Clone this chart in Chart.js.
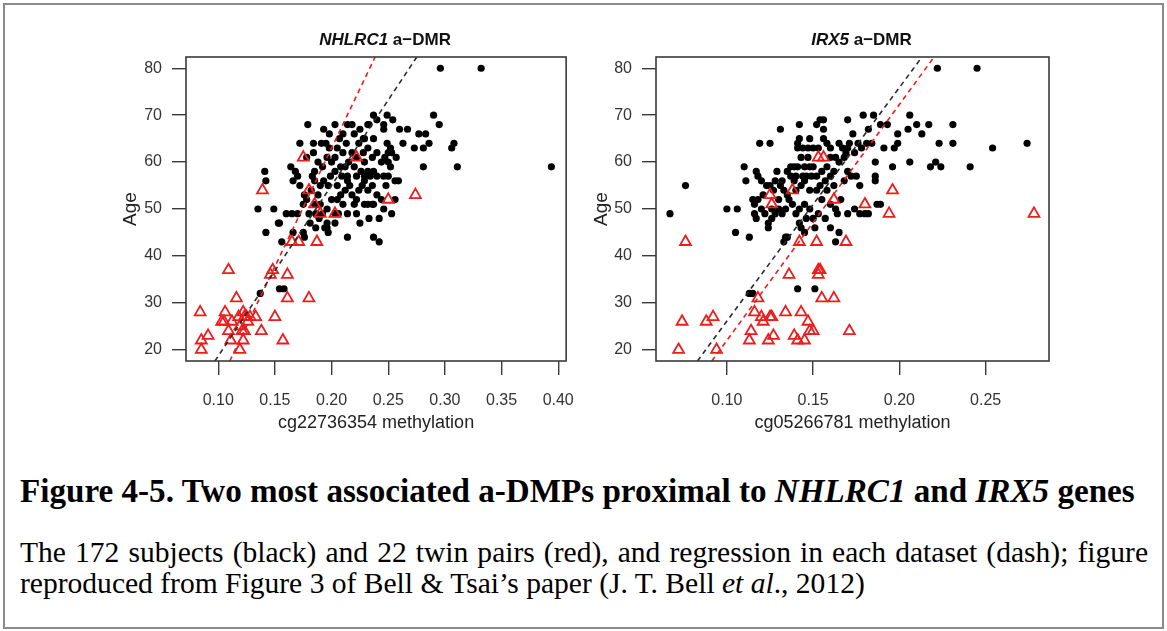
<!DOCTYPE html>
<html><head><meta charset="utf-8">
<script src="https://cdn.jsdelivr.net/npm/chart.js@4.4.0/dist/chart.umd.min.js"></script>
<style>
html,body{margin:0;padding:0;background:#fff;}
body{width:1167px;height:631px;position:relative;overflow:hidden;}
#frame{position:absolute;left:3px;top:3px;width:1157px;height:622px;border:2px solid #8a8a8a;}
#c1{position:absolute;left:0;top:0;width:590px;height:440px;}
#c2{position:absolute;left:590px;top:0;width:577px;height:440px;}
.cap{position:absolute;left:20px;font-family:"Liberation Serif","Times New Roman",serif;color:#000;white-space:nowrap;line-height:1;}
#capL1{width:1128px;white-space:normal;text-align:justify;text-align-last:justify;}
</style></head><body>
<div id="frame"></div>
<canvas id="c1" width="590" height="440"></canvas>
<canvas id="c2" width="577" height="440"></canvas>
<div class="cap" id="capTitle"><b>Figure 4-5. Two most associated a-DMPs proximal to <i>NHLRC1</i> and <i>IRX5</i> genes</b></div>
<div class="cap" id="capL1">The 172 subjects (black) and 22 twin pairs (red), and regression in each dataset (dash); figure</div>
<div class="cap" id="capL2">reproduced from Figure 3 of Bell &amp; Tsai’s paper (J. T. Bell <i>et al</i>., 2012)</div>
<script>
// ---------------- DATA ----------------
const ageTicks = [20, 30, 40, 50, 60, 70, 80];
const nhlrc1Ticks = [0.10, 0.15, 0.20, 0.25, 0.30, 0.35, 0.40];
const irx5Ticks = [0.10, 0.15, 0.20, 0.25];

// NHLRC1 panel: [cg22736354 methylation, age]
const nhlrc1Subjects = [
[0.296,80],[0.332,80],[0.290,70],[0.295,68],[0.237,70],[0.240,69],[0.249,70],[0.254,69],[0.233,68],[0.246,68],[0.246,67],[0.260,67],[0.267,67],[0.237,65],[0.229,65],[0.263,64],[0.273,63],[0.281,63],[0.277,66],[0.283,66],[0.286,64],[0.249,64],[0.252,63],[0.253,62],[0.250,62],[0.257,61],[0.247,61],[0.306,63],[0.308,64],[0.281,59],[0.311,59],[0.394,59],[0.250,60],[0.252,59],[0.229,60],[0.229,57],[0.234,57],[0.240,57],[0.246,57],[0.256,56],[0.259,56],[0.229,56],[0.229,51],[0.236,51],[0.256,52],[0.233,48],[0.242,48],[0.253,49],
[0.179,68],[0.193,67],[0.203,68],[0.214,68],[0.218,68],[0.232,68],[0.172,64],[0.184,64],[0.191,64],[0.195,64],[0.198,63],[0.205,63],[0.213,64],[0.224,64],[0.228,65],[0.203,61],[0.215,60],[0.212,59],[0.208,59],[0.220,59],[0.226,58],[0.232,58],[0.237,58],[0.192,59],[0.164,59],[0.168,58],[0.170,57],[0.141,58],[0.142,56],[0.185,58],[0.183,57],[0.185,56],[0.197,55],[0.199,57],[0.203,58],[0.209,57],[0.214,57],[0.222,57],[0.214,56],[0.200,52],[0.205,52],[0.220,51],[0.222,52],[0.232,51],[0.237,51],[0.135,50],[0.149,50],[0.175,51],[0.154,47],[0.160,49],[0.165,49],[0.180,49],[0.186,49],[0.192,49],[0.196,50],[0.203,49],[0.196,47],[0.196,46],[0.214,49],[0.222,49],[0.203,47],
[0.142,45],[0.153,47],[0.156,43],[0.166,45],[0.175,45],[0.176,44],[0.189,48],[0.194,46],[0.197,45],[0.214,44],[0.237,44],[0.242,43],[0.137,32],[0.154,33],[0.158,33],
[0.166,56],[0.172,55],[0.176,53],[0.178,52],[0.182,54],[0.188,53],[0.190,55],[0.193,56],[0.205,55],[0.208,53],[0.210,51],[0.212,54],[0.216,55],[0.218,53],[0.224,54],[0.227,55],[0.232,54],[0.236,55],[0.240,53],[0.244,52],[0.248,55],[0.250,57],[0.244,60],[0.240,62],[0.236,61],[0.232,63],[0.228,62],[0.222,61],[0.218,62],[0.210,62],[0.207,65],[0.210,66],[0.220,66],[0.225,67],[0.198,66],[0.200,60],[0.196,61],[0.188,60],[0.184,62],[0.178,61],[0.185,51],[0.190,51],[0.170,49],[0.181,47],[0.186,46],[0.206,49],[0.225,47],[0.246,50]
];
const nhlrc1Twins = [
[0.109,37],[0.084,28],[0.085,22],[0.085,20],[0.091,23],[0.106,28],[0.103,26],[0.105,26],[0.109,24],[0.111,22],[0.116,31],[0.118,27],[0.122,28],[0.123,27],[0.126,26],[0.121,24],[0.123,24],[0.122,22],[0.119,20],[0.133,27],[0.138,24],[0.150,27],[0.157,22],[0.148,37],[0.146,36],[0.161,36],[0.161,31],[0.180,31],[0.165,43],[0.171,43],[0.187,43],[0.175,61],[0.222,61],[0.139,54],[0.180,54],[0.185,51],[0.190,49],[0.203,49],[0.250,52],[0.274,53],[0.119,25],[0.125,27],[0.112,26],[0.128,27]
];
// regression (age = intercept + slope * methylation): [subjects, twins]
const nhlrc1FitIntercept = [-17.7, -38.0];
const nhlrc1FitSlope = [363.7, 505];

// IRX5 panel: [cg05266781 methylation, age]
const irx5Subjects = [
[0.067,49],[0.076,55],[0.100,50],[0.106,50],[0.105,45],[0.113,44],[0.110,59],[0.111,56],[0.117,58],[0.118,57],[0.115,52],[0.116,51],[0.116,49],[0.117,48],[0.119,64],[0.125,64],[0.131,67],[0.129,58],[0.125,55],[0.123,55],
[0.120,50],[0.122,49],[0.126,50],[0.128,49],[0.130,50],[0.121,53],[0.127,54],[0.124,47],[0.124,46],[0.132,49],[0.134,50],[0.133,43],[0.134,44],[0.135,44],[0.133,54],[0.137,59],[0.139,59],[0.141,64],[0.142,68],[0.136,52],[0.139,56],
[0.142,65],[0.141,63],[0.144,63],[0.147,63],[0.150,63],[0.153,63],[0.143,61],[0.141,59],[0.148,59],[0.140,57],[0.144,57],[0.146,57],[0.149,57],[0.152,57],[0.155,58],[0.143,55],[0.140,54],[0.145,56],[0.148,54],[0.142,50],[0.145,51],[0.148,50],[0.150,48],[0.142,47],[0.143,46],[0.145,45],[0.141,33],[0.151,33],[0.113,32],[0.115,32],
[0.148,65],[0.152,68],[0.154,69],[0.156,69],[0.156,67],[0.156,65],[0.158,64],[0.160,63],[0.160,61],[0.163,61],[0.165,45],[0.163,43],[0.163,50],[0.164,49],[0.170,69],[0.169,62],[0.173,66],[0.179,70],[0.185,70],[0.182,67],[0.176,64],[0.178,63],[0.181,64],[0.184,64],[0.186,60],[0.186,57],[0.186,56],[0.187,51],[0.189,51],[0.177,49],[0.180,49],[0.182,49],[0.174,50],[0.170,49],[0.189,68],[0.193,68],[0.191,63],[0.197,63],[0.199,64],[0.199,66],[0.196,59],[0.206,70],[0.205,67],[0.210,68],[0.213,66],[0.217,68],[0.206,60],[0.218,59],[0.221,60],[0.224,59],[0.223,64],[0.222,80],[0.245,80],[0.231,68],[0.231,64],[0.241,59],[0.254,63],[0.274,64],
[0.158,59],[0.160,57],[0.162,55],[0.158,54],[0.155,52],[0.160,51],[0.166,52],[0.168,56],[0.170,58],[0.172,57],[0.175,57],[0.177,55],[0.167,63],[0.165,64],[0.170,63],[0.157,48],[0.153,49],[0.151,46],[0.135,58],[0.132,56],[0.130,52],[0.118,52],[0.120,56],[0.160,46],
[0.128,56],[0.131,55],[0.135,53],[0.138,51],[0.140,49],[0.146,48],[0.152,54],[0.154,55],[0.157,56],[0.162,58],[0.165,60],[0.168,61],[0.171,64],[0.174,62],[0.150,59],[0.147,61],[0.137,57],[0.145,59],[0.126,48]
];
const irx5Twins = [
[0.072,20],[0.076,43],[0.074,26],[0.088,26],[0.092,27],[0.094,20],[0.113,22],[0.114,24],[0.116,28],[0.118,31],[0.120,27],[0.121,26],[0.125,27],[0.126,27],[0.124,22],[0.127,23],[0.125,53],[0.126,51],[0.136,36],[0.134,28],[0.138,54],[0.139,23],[0.141,22],[0.142,43],[0.143,28],[0.145,22],[0.147,26],[0.148,24],[0.150,24],[0.152,43],[0.153,37],[0.154,37],[0.153,36],[0.155,31],[0.162,31],[0.153,61],[0.156,61],[0.162,52],[0.169,43],[0.171,24],[0.180,51],[0.194,49],[0.196,54],[0.278,49]
];
const irx5FitIntercept = [-23.7, -28.3];
const irx5FitSlope = [498, 503];

// ---------------- CHART ----------------
const RED = '#ee1c1c';
const FONT = '"Liberation Sans", Arial, Helvetica, sans-serif';
const AGE_MIN = 17.6, AGE_MAX = 82.4;

function pts(pairs){ return pairs.map(p => ({x: p[0], y: p[1]})); }
function fitLine(a, b){ return [AGE_MIN, AGE_MAX].map(y => ({x: (y - a) / b, y: y})); }

const boxPlugin = {
  id: 'rbox',
  afterDraw(chart, args, opts){
    const {ctx, chartArea: ca} = chart;
    ctx.save();
    ctx.strokeStyle = '#3a3a3a';
    ctx.lineWidth = 1.6;
    ctx.strokeRect(ca.left, ca.top, ca.right - ca.left, ca.bottom - ca.top);
    const parts = opts.parts || [];
    ctx.fillStyle = '#111';
    ctx.textBaseline = 'middle';
    let total = 0;
    parts.forEach(p => { ctx.font = p.font; total += ctx.measureText(p.text).width; });
    let x = (ca.left + ca.right) / 2 + 9 - total / 2;
    parts.forEach(p => { ctx.font = p.font; ctx.fillText(p.text, x, 40); x += ctx.measureText(p.text).width; });
    ctx.restore();
  }
};

function makePanel(id, cfg){
  const axisGrid = {display: true, drawOnChartArea: false, drawTicks: true, tickLength: 14, color: '#3a3a3a', lineWidth: 1.4};
  return new Chart(document.getElementById(id), {
    type: 'scatter',
    data: {datasets: [
      {label: 'fit subjects', data: fitLine(cfg.fitA[0], cfg.fitB[0]), showLine: true, pointRadius: 0, borderColor: '#2a2a2a', borderWidth: 1.6, borderDash: [5, 4], order: 1},
      {label: 'fit twins', data: fitLine(cfg.fitA[1], cfg.fitB[1]), showLine: true, pointRadius: 0, borderColor: RED, borderWidth: 1.6, borderDash: [5, 4], order: 1},
      {label: 'twin pairs', data: pts(cfg.twins), pointStyle: 'triangle', pointRadius: 6.3, backgroundColor: 'rgba(255,255,255,0)', borderColor: RED, borderWidth: 1.8, order: 2},
      {label: 'subjects', data: pts(cfg.subjects), pointStyle: 'circle', pointRadius: 3.6, backgroundColor: '#000', borderColor: '#000', borderWidth: 0, order: 3}
    ]},
    options: {
      responsive: false, animation: false, devicePixelRatio: 1,
      layout: {padding: cfg.padding},
      plugins: {legend: {display: false}, tooltip: {enabled: false}, title: {display: false},
        rbox: {parts: [{text: cfg.gene, font: 'italic bold 17px ' + FONT}, {text: ' a\u2212DMR', font: 'bold 17px ' + FONT}]}},
      scales: {
        x: {type: 'linear', position: 'bottom', min: cfg.xmin, max: cfg.xmax,
          afterBuildTicks: s => { s.ticks = cfg.xticks.map(v => ({value: v})); },
          afterFit: s => { s.height = 79; },
          grid: axisGrid, border: {display: false},
          ticks: {color: '#333', font: {family: FONT, size: 16}, padding: 16, maxRotation: 0, autoSkip: false, callback: v => v.toFixed(2)},
          title: {display: true, text: cfg.xtitle, color: '#222', font: {family: FONT, size: 18}, padding: {top: 0, bottom: 6}}},
        y: {type: 'linear', position: 'left', min: AGE_MIN, max: AGE_MAX,
          afterBuildTicks: s => { s.ticks = ageTicks.map(v => ({value: v})); },
          afterFit: s => { s.width = cfg.yWidth; },
          grid: axisGrid, border: {display: false},
          ticks: {color: '#333', font: {family: FONT, size: 16}, padding: 10, autoSkip: false, callback: v => String(v)},
          title: {display: true, text: 'Age', color: '#222', font: {family: FONT, size: 19}, padding: {top: cfg.ageTitlePad, bottom: 0}}}
      }
    },
    plugins: [boxPlugin]
  });
}

makePanel('c1', {gene: 'NHLRC1', subjects: nhlrc1Subjects, twins: nhlrc1Twins, fitA: nhlrc1FitIntercept, fitB: nhlrc1FitSlope,
  xmin: 0.0715, xmax: 0.407, xticks: nhlrc1Ticks, xtitle: 'cg22736354 methylation',
  padding: {left: 110, right: 11, top: 57, bottom: 0}, yWidth: 76, ageTitlePad: 9});
makePanel('c2', {gene: 'IRX5', subjects: irx5Subjects, twins: irx5Twins, fitA: irx5FitIntercept, fitB: irx5FitSlope,
  xmin: 0.0589, xmax: 0.2867, xticks: irx5Ticks, xtitle: 'cg05266781 methylation',
  padding: {left: 0, right: 118, top: 57, bottom: 0}, yWidth: 66, ageTitlePad: 0});

// ---------------- CAPTION LAYOUT ----------------
function fitFont(el, targetW){
  el.style.fontSize = '20px';
  const w = el.getBoundingClientRect().width;
  const fs = 20 * targetW / w;
  el.style.fontSize = fs + 'px';
  return fs;
}
function placeBaseline(el, fs, baseline){ el.style.top = (baseline - 0.84 * fs) + 'px'; }
const capTitle = document.getElementById('capTitle');
const capL1 = document.getElementById('capL1');
const capL2 = document.getElementById('capL2');
const fsT = fitFont(capTitle, 1115);
placeBaseline(capTitle, fsT, 502);
const fsB = fitFont(capL2, 845);
capL1.style.fontSize = fsB + 'px';
placeBaseline(capL1, fsB, 563);
placeBaseline(capL2, fsB, 594);
</script>
</body></html>
